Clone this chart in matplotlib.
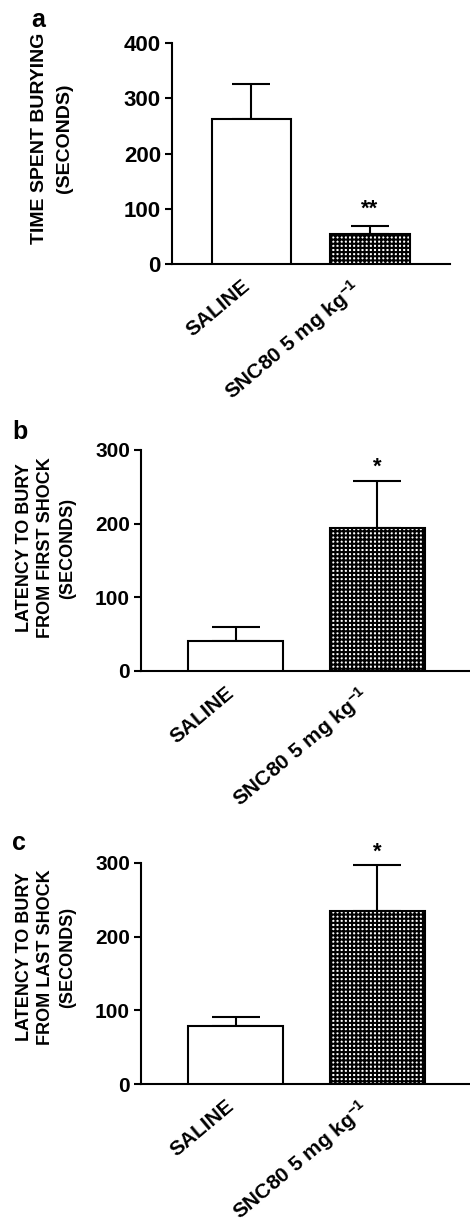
import numpy as np
import matplotlib
matplotlib.use("Agg")
import matplotlib.pyplot as plt

plt.rcParams['font.family'] = ['Liberation Sans', 'DejaVu Sans']
plt.rcParams['font.weight'] = 'bold'
plt.rcParams['mathtext.fontset'] = 'custom'
plt.rcParams['mathtext.rm'] = 'Liberation Sans:bold'
plt.rcParams['mathtext.bf'] = 'Liberation Sans:bold'
plt.rcParams['mathtext.default'] = 'bf'
plt.rcParams['hatch.linewidth'] = 1.5

# data
groups = ["SALINE", r"SNC80 5 mg kg$^{-1}$"]

bury_time = [262, 54]
bury_time_err = [63, 15]

latency_first = [41, 194]
latency_first_err = [19, 64]

latency_last = [79, 235]
latency_last_err = [12, 62]

W, H = 470, 1229
fig = plt.figure(figsize=(W / 100, H / 100), dpi=100)


def add_axes_px(left, top, right, bottom):
    # pixel box (top-left origin) -> figure fraction
    return fig.add_axes([left / W, 1 - bottom / H, (right - left) / W, (bottom - top) / H])


def panel(ax, vals, errs, ymax, xlim, capsize, fsize):
    x = np.arange(len(vals))
    ax.bar(x, vals, width=0.67, color="white", edgecolor="black",
           linewidth=1.5, hatch=["", "++++"], zorder=3)
    ax.errorbar(x, vals, yerr=[np.zeros(len(vals)), errs], fmt="none",
                ecolor="black", elinewidth=1.5, capsize=capsize, capthick=1.5, zorder=2)
    ax.set_xlim(*xlim)
    ax.set_ylim(0, ymax)
    ax.set_yticks(np.arange(0, ymax + 1, 100))
    ax.set_xticks([])
    # rotated group labels, nudged left like the original
    for xi, lab, dx in zip(x, groups, [-10, -20]):
        ax.annotate(lab, xy=(xi, 0), xycoords=("data", "axes fraction"),
                    xytext=(dx, -12), textcoords="offset pixels",
                    rotation=40, ha="right", va="top", rotation_mode="anchor",
                    fontsize=15, fontweight="bold")
    ax.tick_params(axis="y", direction="out", length=5, width=1.5, pad=3,
                   labelsize=fsize)
    for s in ["top", "right"]:
        ax.spines[s].set_visible(False)
    for s in ["left", "bottom"]:
        ax.spines[s].set_linewidth(1.5)
    return x


# panel a
ax1 = add_axes_px(172, 43, 450, 264)
x = panel(ax1, bury_time, bury_time_err, 400, (-0.67, 1.675), 14, 16)
ax1.text(x[1], bury_time[1] + bury_time_err[1] + 12, "**", ha="center", va="bottom",
         fontsize=16, fontweight="bold")
fig.text(52 / W, 1 - 138 / H, "TIME SPENT BURYING\n(SECONDS)", rotation=90,
         ha="center", va="center", multialignment="center", fontsize=14,
         fontweight="bold", linespacing=1.6)
fig.text(38 / W, 1 - 20 / H, "a", ha="center", va="center", fontsize=18, fontweight="bold")

# panel b
ax2 = add_axes_px(141, 450, 470, 671)
x = panel(ax2, latency_first, latency_first_err, 300, (-0.67, 1.654), 17, 15)
ax2.text(x[1], latency_first[1] + latency_first_err[1] + 5, "*", ha="center", va="bottom",
         fontsize=16, fontweight="bold")
fig.text(46 / W, 1 - 548 / H, "LATENCY TO BURY\nFROM FIRST SHOCK\n(SECONDS)", rotation=90,
         ha="center", va="center", multialignment="center", fontsize=13,
         fontweight="bold", linespacing=1.35)
fig.text(20 / W, 1 - 432 / H, "b", ha="center", va="center", fontsize=18, fontweight="bold")

# panel c
ax3 = add_axes_px(141, 863, 470, 1084)
x = panel(ax3, latency_last, latency_last_err, 300, (-0.67, 1.654), 17, 15)
ax3.text(x[1], latency_last[1] + latency_last_err[1] + 3, "*", ha="center", va="bottom",
         fontsize=16, fontweight="bold")
fig.text(46 / W, 1 - 957 / H, "LATENCY TO BURY\nFROM LAST SHOCK\n(SECONDS)", rotation=90,
         ha="center", va="center", multialignment="center", fontsize=13,
         fontweight="bold", linespacing=1.35)
fig.text(19 / W, 1 - 843 / H, "c", ha="center", va="center", fontsize=18, fontweight="bold")

fig.savefig("out.png", dpi=100)
